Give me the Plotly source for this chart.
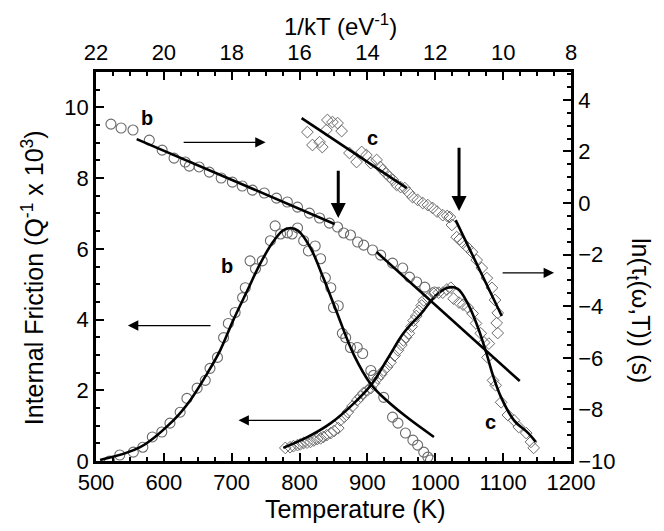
import plotly.graph_objects as go

# ---------------- data ----------------
# Internal friction, peak b (circles): Temperature (K), IF (Q^-1 x 10^3)
b_if_T = [520, 535, 555, 569, 583, 597, 609, 624, 634, 649, 661, 668, 679, 688, 695, 705,
          716, 720, 727, 735, 745, 757, 764, 772, 782, 789, 797, 806, 813, 823, 831, 838,
          846, 850, 857, 863, 868, 875, 885, 893, 905, 909, 924, 937, 945, 956, 967, 974,
          983, 989, 993]
b_if_v = [0.0, 0.17, 0.25, 0.39, 0.68, 0.82, 1.07, 1.38, 1.77, 2.06, 2.28, 2.62, 2.93, 3.49,
          3.89, 4.20, 4.62, 4.90, 5.66, 5.44, 5.66, 6.23, 6.65, 6.42, 6.45, 6.42, 6.59, 6.23,
          5.94, 6.08, 5.72, 5.18, 4.90, 4.34, 4.39, 3.61, 3.49, 3.21, 3.21, 3.04, 2.56, 2.42,
          1.80, 1.24, 1.07, 0.79, 0.59, 0.45, 0.25, 0.11, 0.03]
# fit curve b
b_fit_T = [506, 565, 614, 639, 664, 683, 702, 723, 742, 760, 775, 787, 798, 816, 835, 854,
           880, 905, 920, 956, 998]
b_fit_v = [0.03, 0.39, 1.15, 1.72, 2.48, 3.13, 3.97, 4.82, 5.58, 6.17, 6.51, 6.59, 6.51,
           6.03, 5.18, 4.25, 3.00, 2.17, 1.86, 1.27, 0.68]

# Internal friction, peak c (diamonds)
c_if_T = [779, 786, 791, 797, 801, 806, 811, 816, 821, 826, 831, 835, 840, 846, 851, 857,
          860, 866, 871, 878, 885, 890, 894, 900, 905, 910, 915, 920, 924, 929, 934, 940,
          945, 950, 953, 957, 961, 965, 968, 972, 976, 980, 983, 990, 998, 1005, 1011, 1017,
          1023, 1027, 1035, 1041, 1048, 1055, 1060, 1067, 1072, 1079, 1077, 1085, 1089, 1097,
          1107, 1116, 1123, 1134, 1141, 1145]
c_if_v = [0.37, 0.39, 0.42, 0.45, 0.47, 0.51, 0.52, 0.54, 0.58, 0.62, 0.64, 0.68, 0.73, 0.79,
          0.85, 0.93, 1.15, 1.25, 1.38, 1.55, 1.72, 1.82, 1.92, 2.00, 2.06, 2.20, 2.34, 2.45,
          2.56, 2.66, 2.79, 2.98, 3.13, 3.28, 3.41, 3.50, 3.61, 3.80, 3.97, 4.10, 4.25, 4.40,
          4.54, 4.62, 4.73, 4.76, 4.76, 4.85, 4.90, 4.59, 4.48, 4.42, 4.34, 4.17, 3.89, 3.61,
          3.35, 3.32, 2.93, 2.28, 2.14, 1.66, 1.30, 1.15, 0.96, 0.79, 0.54, 0.37]
c_fit_T = [776, 812, 846, 880, 905, 930, 953, 979, 1001, 1018, 1033, 1048, 1063, 1075,
           1085, 1097, 1116, 1137, 1148]
c_fit_v = [0.37, 0.68, 1.07, 1.63, 2.14, 2.90, 3.61, 4.17, 4.68, 4.90, 4.87, 4.45, 3.77,
           3.07, 2.42, 1.80, 1.15, 0.79, 0.54]

# ln(tau) vs 1/kT, sample b (circles)
b_ln_x = [21.56, 21.26, 20.91, 20.43, 20.05, 19.70, 19.37, 19.25, 18.96, 18.66, 18.31, 17.98,
          17.69, 17.39, 17.04, 16.68, 16.36, 16.06, 15.71, 15.41, 15.12, 14.88, 14.70, 14.50,
          14.29, 14.11, 13.85, 13.61, 13.26, 12.96, 12.76, 12.55, 12.31, 12.02]
b_ln_y = [3.06, 2.91, 2.83, 2.44, 2.05, 1.74, 1.59, 1.43, 1.40, 1.20, 0.97, 0.81, 0.66, 0.50,
          0.39, 0.19, 0.04, -0.16, -0.39, -0.58, -0.78, -0.93, -1.16, -1.24, -1.51, -1.63,
          -1.82, -2.02, -2.33, -2.52, -2.87, -3.06, -3.26, -3.45]
b_ln_fit1_x = [20.80, 14.97]
b_ln_fit1_y = [2.48, -0.81]
b_ln_fit2_x = [13.73, 9.51]
b_ln_fit2_y = [-1.90, -6.90]

# ln(tau) vs 1/kT, sample c (diamonds)
c_ln_x = [15.77, 15.62, 15.41, 15.33, 15.21, 15.18, 15.03, 14.88, 14.76, 14.53, 14.32, 14.17,
          14.03, 13.90, 13.73, 13.62, 13.55, 13.45, 13.35, 13.25, 13.14, 13.02, 12.90, 12.78,
          12.67, 12.52, 12.37, 12.22, 12.08, 11.95, 11.78, 11.65, 11.57, 11.51, 11.37, 11.28,
          11.19, 11.05, 10.92, 10.78, 10.63, 10.48, 10.33, 10.24, 10.16, 10.19, 10.16]
c_ln_y = [2.75, 2.25, 2.36, 2.17, 2.83, 3.22, 3.14, 3.10, 2.79, 1.94, 1.59, 1.98, 1.86, 1.55,
          1.67, 1.40, 1.28, 1.15, 1.01, 0.90, 0.70, 0.62, 0.58, 0.40, 0.23, 0.12, 0.0, -0.08,
          -0.19, -0.33, -0.47, -0.50, -0.54, -0.85, -1.32, -1.40, -1.55, -1.72, -1.90, -2.21,
          -2.52, -2.91, -3.29, -3.76, -4.26, -4.65, -5.04]
c_ln_fit1_x = [15.94, 12.84]
c_ln_fit1_y = [3.29, 0.58]
c_ln_fit2_x = [11.40, 10.04]
c_ln_fit2_y = [-0.66, -4.38]

# ---------------- figure ----------------
FONT = "Liberation Sans, Arial, sans-serif"
GRAY = "#6a6a6a"
fig = go.Figure()

circ = dict(symbol="circle-open", size=10, color=GRAY, line=dict(width=1.1, color=GRAY))
diam = dict(symbol="diamond-open", size=9, color=GRAY, line=dict(width=1.0, color=GRAY))
fitline = dict(color="black", width=2.6)

fig.add_trace(go.Scatter(x=b_if_T, y=b_if_v, mode="markers", marker=circ, xaxis="x", yaxis="y"))
fig.add_trace(go.Scatter(x=c_if_T, y=c_if_v, mode="markers", marker=diam, xaxis="x", yaxis="y"))
fig.add_trace(go.Scatter(x=b_ln_x, y=b_ln_y, mode="markers", marker=circ, xaxis="x2", yaxis="y2"))
fig.add_trace(go.Scatter(x=c_ln_x, y=c_ln_y, mode="markers", marker=diam, xaxis="x2", yaxis="y2"))

fig.add_trace(go.Scatter(x=b_fit_T, y=b_fit_v, mode="lines", line=dict(**fitline, shape="spline"),
                         xaxis="x", yaxis="y"))
fig.add_trace(go.Scatter(x=c_fit_T, y=c_fit_v, mode="lines", line=dict(**fitline, shape="spline"),
                         xaxis="x", yaxis="y"))
for xs, ys in [(b_ln_fit1_x, b_ln_fit1_y), (b_ln_fit2_x, b_ln_fit2_y),
               (c_ln_fit1_x, c_ln_fit1_y), (c_ln_fit2_x, c_ln_fit2_y)]:
    fig.add_trace(go.Scatter(x=xs, y=ys, mode="lines", line=fitline, xaxis="x2", yaxis="y2"))

tickfont = dict(family=FONT, size=22, color="black")
titlefont = dict(family=FONT, size=25, color="black")
common = dict(showgrid=False, zeroline=False, showline=True, linecolor="black", linewidth=2.5,
              ticks="inside", ticklen=8, tickwidth=2, tickcolor="black", tickfont=tickfont,
              automargin=False)
minor = dict(ticks="inside", ticklen=4.5, tickwidth=1.6, tickcolor="black")

# the page body adds an 8 px offset, so the figure is 8 px smaller than the window
fig.update_layout(
    width=656, height=523,
    margin=dict(l=88, r=93, t=64, b=70, autoexpand=False),
    paper_bgcolor="white", plot_bgcolor="white",
    showlegend=False,
    xaxis=dict(**common, range=[500, 1200], dtick=100, tick0=500,
               minor=dict(**minor, dtick=25)),
    xaxis2=dict(**common, range=[22, 8], dtick=2, tick0=8, overlaying="x", side="top",
                anchor="y", minor=dict(**minor, dtick=0.5)),
    yaxis=dict(**common, range=[0, 11], dtick=2, tick0=0,
               minor=dict(**minor, dtick=0.5)),
    yaxis2=dict(**common, range=[-10, 5.08], dtick=2, tick0=0, overlaying="y", side="right",
                anchor="x", minor=dict(**minor, dtick=0.5)),
)

# axis titles
titles = [
    ("Temperature (K)", 0.547, -0.123, 0, 25),
    ("1/kT (eV<sup>-1</sup>)", 0.514, 1.121, 0, 24),
    ("Internal Friction (Q<sup>-1</sup> x 10<sup>3</sup>)", -0.1326, 0.47, -90, 25),
    ("ln(τ<sub>t</sub>(ω,T)) (s)", 1.143, 0.386, 90, 25),
]
for txt, px, py, ang, fs in titles:
    fig.add_annotation(text=txt, xref="paper", yref="paper", x=px, y=py, textangle=ang,
                       showarrow=False, font=dict(family=FONT, size=fs, color="black"),
                       xanchor="center", yanchor="middle")

# letter labels
for txt, tx, ty in [("b", 575, 9.69), ("c", 908, 9.13), ("b", 693, 5.52), ("c", 1082, 1.10)]:
    fig.add_annotation(text="<b>%s</b>" % txt, x=tx, y=ty, xref="x", yref="y", showarrow=False,
                       font=dict(family=FONT, size=20, color="black"))

# arrows: (head_x, head_y, tail_x, tail_y, width)
arrows = [(750, 9.01, 627, 9.01, 1.3), (857, 6.87, 857, 8.25, 3.0), (1035, 7.07, 1035, 8.90, 3.0),
          (1175, 5.32, 1097, 5.32, 1.3), (547, 3.83, 671, 3.83, 1.3), (710, 1.15, 834, 1.15, 1.3)]
for hx, hy, tx, ty, w in arrows:
    fig.add_annotation(x=hx, y=hy, ax=tx, ay=ty, xref="x", yref="y", axref="x", ayref="y",
                       text="", showarrow=True, arrowhead=2, arrowsize=1.6 if w < 2 else 1.0,
                       arrowwidth=w, arrowcolor="black", standoff=0, startstandoff=0)

fig.write_html("out.html")
